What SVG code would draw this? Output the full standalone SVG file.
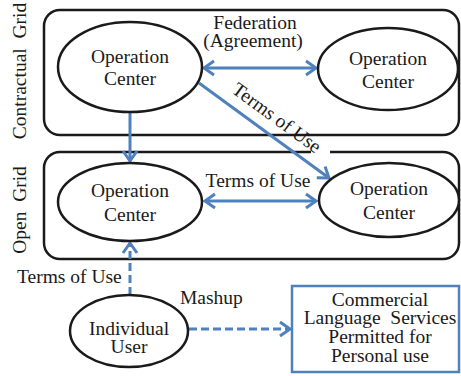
<svg xmlns="http://www.w3.org/2000/svg" width="461" height="376" viewBox="0 0 461 376">
  <style>
    .lbl { font-family: "Liberation Serif", "Times New Roman", serif; font-size: 19.5px; fill: #1a1a1a; }
    .mid { text-anchor: middle; }
    .grid { fill: none; stroke: #1a1a1a; stroke-width: 2.5; }
    .node { fill: #ffffff; stroke: #1a1a1a; stroke-width: 2.5; }
    .box { fill: #ffffff; stroke: #4f81bd; stroke-width: 2.5; }
    .link { fill: none; stroke: #4f81bd; stroke-width: 3; }
    .dash { stroke-dasharray: 8 4; }
  </style>
  <defs>
    <marker id="head" markerUnits="userSpaceOnUse" markerWidth="14" markerHeight="18" viewBox="-2 -9 14 18" refX="10" refY="0" orient="auto-start-reverse" overflow="visible">
      <path d="M0,-7 L10,0 L0,7" fill="none" stroke="#4f81bd" stroke-width="3" stroke-dasharray="none" stroke-linejoin="miter"/>
    </marker>
  </defs>

  <!-- grid frames -->
  <g id="contractual-grid">
    <rect class="grid" x="44" y="10" width="415" height="125" rx="16"/>
    <text class="lbl mid" transform="translate(26,71) rotate(-90)" xml:space="preserve">Contractual  Grid</text>
  </g>
  <g id="open-grid">
    <path class="grid" d="M330,152 H443 A16,16 0 0 1 459,168 V243 A16,16 0 0 1 443,259 H60 A16,16 0 0 1 44,243 V168 A16,16 0 0 1 60,152 H311"/>
    <text class="lbl mid" transform="translate(26,210) rotate(-90)" xml:space="preserve">Open  Grid</text>
  </g>

  <!-- connectors -->
  <g id="connectors">
    <line class="link" x1="204" y1="68" x2="316" y2="68" marker-start="url(#head)" marker-end="url(#head)"/>
    <line class="link" x1="199" y1="83" x2="329" y2="178" marker-end="url(#head)"/>
    <line class="link" x1="130" y1="112" x2="130" y2="161" marker-end="url(#head)"/>
    <line class="link" x1="205" y1="201" x2="316" y2="201" marker-start="url(#head)" marker-end="url(#head)"/>
    <line class="link dash" x1="130" y1="295" x2="130" y2="243" marker-end="url(#head)"/>
    <line class="link dash" x1="189" y1="329" x2="290" y2="329" marker-end="url(#head)"/>

    <text class="lbl mid" x="255" y="29">Federation</text>
    <text class="lbl mid" x="253" y="47">(Agreement)</text>
    <text class="lbl mid" transform="translate(273,123) rotate(36.2)">Terms of Use</text>
    <text class="lbl mid" x="258" y="187">Terms of Use</text>
    <text class="lbl" x="17" y="283">Terms of Use</text>
    <text class="lbl" x="180" y="304">Mashup</text>
  </g>

  <!-- nodes -->
  <g id="oc-contractual-1">
    <ellipse class="node" cx="130" cy="67" rx="72" ry="45"/>
    <text class="lbl mid" x="130" y="63">Operation</text>
    <text class="lbl mid" x="130" y="85">Center</text>
  </g>
  <g id="oc-contractual-2">
    <ellipse class="node" cx="388" cy="69" rx="70" ry="41"/>
    <text class="lbl mid" x="388" y="65">Operation</text>
    <text class="lbl mid" x="388" y="88">Center</text>
  </g>
  <g id="oc-open-1">
    <ellipse class="node" cx="130" cy="202" rx="72" ry="39"/>
    <text class="lbl mid" x="130" y="197">Operation</text>
    <text class="lbl mid" x="130" y="221">Center</text>
  </g>
  <g id="oc-open-2">
    <ellipse class="node" cx="389" cy="200" rx="70" ry="37"/>
    <text class="lbl mid" x="389" y="195">Operation</text>
    <text class="lbl mid" x="389" y="219">Center</text>
  </g>
  <g id="individual-user">
    <ellipse class="node" cx="129" cy="331" rx="59" ry="36"/>
    <text class="lbl mid" x="129" y="335">Individual</text>
    <text class="lbl mid" x="129" y="353">User</text>
  </g>
  <g id="commercial-services">
    <rect class="box" x="292" y="286" width="167" height="86"/>
    <text class="lbl mid" x="380" y="306">Commercial</text>
    <text class="lbl mid" x="380" y="324" xml:space="preserve">Language  Services</text>
    <text class="lbl mid" x="380" y="343">Permitted for</text>
    <text class="lbl mid" x="380" y="362">Personal use</text>
  </g>
</svg>
